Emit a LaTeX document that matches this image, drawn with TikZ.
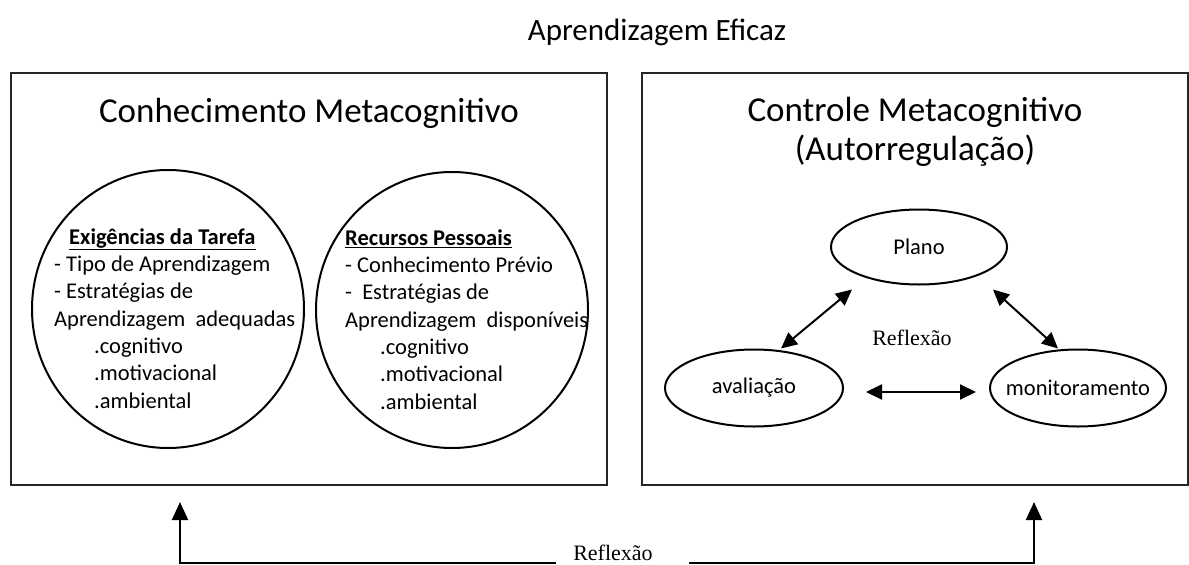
\documentclass[tikz,border=0pt]{standalone}
\usepackage{fontspec}
\setmainfont{Carlito}
\newfontfamily\reflfont{Liberation Serif}
\usetikzlibrary{shapes.geometric,arrows.meta}

\tikzset{
	panel/.style={draw=black!85, line width=2.4pt},
	bigoval/.style={draw, ellipse, line width=2pt, inner sep=0pt},
	smalloval/.style={draw, ellipse, line width=2pt, inner sep=0pt, minimum width=176pt, minimum height=75pt},
	lst/.style={align=left, inner sep=0pt, anchor=base west, font=\fontsize{22.5}{27.3}\selectfont},
	head/.style={inner sep=0pt, anchor=base, font=\fontsize{35}{40}\selectfont},
	refl/.style={inner sep=0pt, anchor=base, font=\reflfont\fontsize{22}{24}\selectfont},
	dbl/.style={{Triangle[length=16pt,width=15pt]}-{Triangle[length=16pt,width=15pt]}, line width=2pt},
	upar/.style={-{Triangle[length=18pt,width=16pt]}, line width=2pt},
	every label/.style={font=\fontsize{22.5}{27}\selectfont}
}

\begin{document}
\begin{tikzpicture}[x=1pt, y=-1pt]
	\useasboundingbox (0,0) rectangle (1189,565);

	\node[anchor=base, inner sep=0pt, font=\fontsize{31}{36}\selectfont] (title) at (657,40) {Aprendizagem Eficaz};

	\node[panel, minimum width=596pt, minimum height=412pt] (know) at (309,279) {};
	\node[panel, minimum width=546pt, minimum height=412pt] (ctrl) at (915,279) {};

	\node[head] (knowhd) at (309,122) {Conhecimento Metacognitivo};
	\node[head] (ctrlhd) at (915,121) {Controle Metacognitivo};
	\node[head] (autohd) at (915,160) {(Autorregulação)};

	\node[bigoval, minimum width=272pt, minimum height=278pt] (task) at (168,309) {};
	\node[bigoval, minimum width=272pt, minimum height=276pt] (pers) at (452,310) {};

	% base of a multi-line node is its last line
	\node[lst] (tasktxt) at (54,408) {\hspace*{15pt}\underline{\textbf{Exigências da Tarefa}}\\
		- Tipo de Aprendizagem\\
		- Estratégias de\\
		Aprendizagem\ \ adequadas\\
		\hspace*{40pt}.cognitivo\\
		\hspace*{40pt}.motivacional\\
		\hspace*{40pt}.ambiental};
	\node[lst] (perstxt) at (345,409) {\underline{\textbf{Recursos Pessoais}}\\
		- Conhecimento Prévio\\
		-\ \ Estratégias de\\
		Aprendizagem\ \ disponíveis\\
		\hspace*{35pt}.cognitivo\\
		\hspace*{35pt}.motivacional\\
		\hspace*{35pt}.ambiental};

	\node[smalloval, label=center:Plano] (plano) at (919,247) {};
	\node[smalloval, minimum width=178pt, minimum height=77pt, label=center:avaliação] (aval) at (754,388) {};
	\node[smalloval, minimum height=77pt, label=center:monitoramento] (moni) at (1078,388) {};
	\node[refl] (reflM) at (912,345) {Reflexão};

	\draw[dbl] ([xshift=27pt]aval.north) -- ([xshift=-67pt,yshift=-4pt]plano.south);
	\draw[dbl] ([xshift=74pt,yshift=-4pt]plano.south) -- ([xshift=-20pt]moni.north);
	\draw[dbl] ([xshift=22pt,yshift=-4pt]aval.east) -- ([xshift=-13pt,yshift=-4pt]moni.west);

	\node[refl] (reflB) at (613,560) {Reflexão};
	\coordinate (tipL) at (180,502);
	\coordinate (tipR) at (1034,502);
	\draw[upar] ([xshift=-17pt,yshift=-3pt]reflB.base west) -| (tipL);
	\draw[upar] ([xshift=36pt,yshift=-3pt]reflB.base east) -| (tipR);
\end{tikzpicture}
\end{document}
